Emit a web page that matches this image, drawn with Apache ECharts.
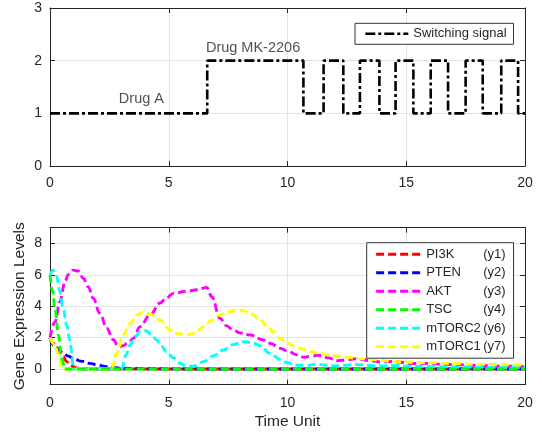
<!DOCTYPE html>
<html><head><meta charset="utf-8">
<script src="https://cdn.jsdelivr.net/npm/echarts@6/dist/echarts.min.js"></script>
<style>html,body{margin:0;padding:0;background:#fff}#c{width:542px;height:435px}</style>
</head><body><div id="c"></div>
<script>
// ---- Top panel: switching signal ----
const signalT = [0, 6.62, 10.67, 11.52, 12.35, 13.05, 13.87, 14.55, 15.3, 16.03, 16.76, 17.5, 18.22, 19.0, 19.71, 20];
const signalLevel = [1, 2, 1, 2, 1, 2, 1, 2, 1, 2, 1, 2, 1, 2, 1, 1];
const annotText = ['Drug A', 'Drug MK-2206'];
const annotX = [3.85, 8.55];
const annotY = [1.27, 2.24];

// ---- Bottom panel: gene expression ----
const seriesNames = ['PI3K', 'PTEN', 'AKT', 'TSC', 'mTORC2', 'mTORC1'];
const seriesTags = ['(y1)', '(y2)', '(y3)', '(y4)', '(y6)', '(y7)'];
const seriesColors = ['#ff0000', '#0000ff', '#ff00ff', '#00ff00', '#00ffff', '#ffff00'];

const pi3kT = [0, 0.14, 0.28, 0.42, 0.56, 0.7, 0.84, 0.98, 1.12, 1.26, 2, 20];
const pi3kY = [2, 1.64, 1.38, 1.1, 0.78, 0.47, 0.27, 0.15, 0.06, 0, 0, 0];

const ptenT = [0, 0.14, 0.35, 0.56, 0.77, 0.98, 1.3, 1.68, 2.0, 2.39, 2.7, 3.09, 3.6, 4, 6, 20];
const ptenY = [2, 1.53, 1.22, 1.0, 0.82, 0.68, 0.5, 0.36, 0.25, 0.15, 0.09, 0.05, 0.03, 0.02, 0, 0];

const aktT = [0, 0.21, 0.42, 0.63, 0.77, 0.98, 1.19, 1.4, 1.61, 1.82, 2.1, 2.39, 2.67, 2.88, 3.09, 3.3, 3.51, 3.79, 4.21, 4.63, 4.91, 5.19, 5.76, 6.2, 6.6, 6.81, 7.16, 7.44, 7.72, 8.0, 8.42, 8.98, 9.3, 9.68, 10.0, 10.4, 10.7, 11.0, 11.3, 11.7, 12.1, 12.5, 12.9, 13.4, 13.9, 14.4, 14.7, 15.2, 15.8, 16.5, 17.2, 18, 19, 20];
const aktY = [2, 3.0, 4.29, 5.56, 6.03, 6.3, 6.24, 5.78, 5.24, 4.5, 3.55, 2.6, 1.86, 1.42, 1.49, 1.7, 1.95, 2.7, 3.44, 4.2, 4.54, 4.82, 4.95, 5.05, 5.2, 4.6, 3.23, 2.75, 2.48, 2.3, 2.17, 1.85, 1.62, 1.32, 1.15, 0.9, 0.75, 0.82, 0.88, 0.72, 0.53, 0.58, 0.66, 0.55, 0.45, 0.48, 0.45, 0.35, 0.36, 0.3, 0.27, 0.22, 0.18, 0.15];

const tscT = [0, 0.1, 0.21, 0.35, 0.49, 0.63, 1, 2, 20];
const tscY = [6.0, 5.0, 3.87, 2.17, 0.68, 0, 0, 0, 0];

const mtorc2T = [0, 0.14, 0.28, 0.42, 0.56, 0.7, 0.84, 0.91, 0.98, 1.5, 3.02, 3.2, 3.37, 3.58, 3.79, 3.95, 4.07, 4.3, 4.49, 4.7, 4.91, 5.2, 5.5, 5.76, 6.1, 6.46, 6.9, 7.3, 7.7, 8.14, 8.5, 8.84, 9.26, 9.68, 10.0, 10.39, 10.8, 11.2, 11.6, 12.0, 12.5, 13.0, 13.5, 14, 14.5, 15, 16, 17, 18, 19, 20];
const mtorc2Y = [6.0, 6.3, 5.9, 4.9, 3.8, 2.8, 1.8, 1.1, 0, 0, 0, 0.9, 1.53, 2.05, 2.38, 2.45, 2.42, 2.15, 1.85, 1.45, 1.1, 0.7, 0.35, 0.15, 0.2, 0.47, 0.85, 1.21, 1.55, 1.74, 1.7, 1.49, 1.0, 0.62, 0.4, 0.25, 0.22, 0.3, 0.25, 0.2, 0.25, 0.28, 0.22, 0.2, 0.22, 0.18, 0.15, 0.13, 0.12, 0.1, 0.1];

const mtorc1T = [0, 0.2, 0.35, 0.53, 1, 2.6, 2.81, 3.09, 3.37, 3.65, 3.95, 4.21, 4.63, 5.05, 5.4, 5.76, 6.1, 6.46, 6.8, 7.16, 7.5, 7.86, 8.15, 8.42, 8.8, 9.12, 9.4, 9.68, 10.0, 10.3, 10.67, 11.0, 11.37, 11.7, 12.07, 12.5, 12.91, 13.4, 13.89, 14.3, 14.74, 15.3, 16, 17, 18, 19, 20];
const mtorc1Y = [2, 1.55, 1.0, 0, 0, 0, 1.0, 2.17, 2.9, 3.44, 3.62, 3.5, 3.12, 2.5, 2.25, 2.17, 2.3, 2.7, 3.1, 3.44, 3.65, 3.76, 3.7, 3.55, 3.2, 2.8, 2.35, 1.95, 1.65, 1.45, 1.25, 1.1, 1.0, 0.9, 0.83, 0.75, 0.68, 0.62, 0.57, 0.5, 0.47, 0.43, 0.4, 0.35, 0.3, 0.27, 0.25];

const seriesT = [pi3kT, ptenT, aktT, tscT, mtorc2T, mtorc1T];
const seriesY = [pi3kY, ptenY, aktY, tscY, mtorc2Y, mtorc1Y];

const FONT = 'Liberation Sans, Arial, Helvetica, sans-serif';
const AX = '#262626';
const GRIDC = '#e3e3e3';

const chart = echarts.init(document.getElementById('c'), null, {renderer: 'canvas'});

function xAx(grid, pos, opts) {
  return Object.assign({
    type: 'value', gridIndex: grid, position: pos, min: 0, max: 20, interval: 5,
    axisLine: {show: true, onZero: false, lineStyle: {color: AX, width: 1}},
    axisTick: {show: true, inside: true, length: 5, lineStyle: {color: AX}},
    axisLabel: {show: false},
    splitLine: {show: false}
  }, opts);
}
function yAx(grid, pos, min, max, interval, opts) {
  return Object.assign({
    type: 'value', gridIndex: grid, position: pos, min: min, max: max, interval: interval,
    axisLine: {show: true, onZero: false, lineStyle: {color: AX, width: 1}},
    axisTick: {show: true, inside: true, length: 5, lineStyle: {color: AX}},
    axisLabel: {show: false},
    splitLine: {show: false}
  }, opts);
}
const lab = {show: true, color: AX, fontSize: 14, fontFamily: FONT};

const lineSeries = seriesNames.map((n, i) => ({
  name: n, type: 'line', xAxisIndex: 2, yAxisIndex: 2,
  data: seriesT[i].map((t, k) => [t, seriesY[i][k]]),
  symbol: 'none', smooth: 0.4, smoothMonotone: 'x',
  lineStyle: {color: seriesColors[i], width: 2.9, type: [8, 4]},
  itemStyle: {color: seriesColors[i]},
  z: 3 + (n === 'TSC' ? 3 : 0)
}));

const option = {
  animation: false,
  backgroundColor: '#fff',
  textStyle: {fontFamily: FONT},
  grid: [
    {left: 50, top: 8, width: 475, height: 158},
    {left: 50, top: 227.7, width: 475, height: 157},
    {left: 50, top: 243.4, width: 475, height: 125.6}
  ],
  xAxis: [
    xAx(0, 'bottom', {axisLabel: Object.assign({margin: 10}, lab), splitLine: {show: true, lineStyle: {color: GRIDC}}}),
    xAx(0, 'top', {}),
    xAx(1, 'bottom', {axisLabel: Object.assign({margin: 11}, lab), splitLine: {show: true, lineStyle: {color: GRIDC}},
      name: 'Time Unit', nameLocation: 'middle', nameGap: 29, nameTextStyle: {color: AX, fontSize: 15.5, fontFamily: FONT}}),
    xAx(1, 'top', {}),
    xAx(2, 'bottom', {show: false})
  ],
  yAxis: [
    yAx(0, 'left', 0, 3, 1, {axisLabel: Object.assign({margin: 8}, lab), splitLine: {show: true, lineStyle: {color: GRIDC}}}),
    yAx(0, 'right', 0, 3, 1, {}),
    yAx(1, 'left', -1, 9, 1, {axisTick: {show: false},
      name: 'Gene Expression Levels', nameLocation: 'middle', nameGap: 22, nameTextStyle: {color: AX, fontSize: 15.5, fontFamily: FONT}}),
    yAx(1, 'right', -1, 9, 1, {axisTick: {show: false}}),
    yAx(2, 'left', 0, 8, 2, {axisLine: {show: false}, axisLabel: Object.assign({margin: 8}, lab), splitLine: {show: true, lineStyle: {color: GRIDC}}}),
    yAx(2, 'right', 0, 8, 2, {axisLine: {show: false}})
  ],
  legend: [
    {
      data: ['Switching signal'], left: 355, top: 23.3, orient: 'horizontal',
      itemWidth: 43, itemHeight: 12, padding: [4, 7, 4, 9],
      itemStyle: {opacity: 0}, lineStyle: {width: 2.6},
      borderColor: '#333', borderWidth: 1, backgroundColor: '#fff', borderRadius: 0,
      textStyle: {color: AX, fontSize: 13, fontFamily: FONT}
    },
    {
      data: seriesNames, left: 366.7, top: 242.7, orient: 'vertical',
      itemWidth: 45, itemHeight: 12, itemGap: 5.5, padding: [5, 8, 5, 8],
      itemStyle: {opacity: 0}, lineStyle: {width: 2.9},
      borderColor: '#333', borderWidth: 1, backgroundColor: '#fff', borderRadius: 0,
      formatter: name => '{a|' + name + '}{b|' + seriesTags[seriesNames.indexOf(name)] + '}',
      textStyle: {color: AX, fontSize: 13, fontFamily: FONT,
        rich: {a: {width: 57, fontSize: 13, fontFamily: FONT, color: AX}, b: {fontSize: 13, fontFamily: FONT, color: AX}}}
    }
  ],
  series: [
    {
      name: 'Switching signal', type: 'line', xAxisIndex: 0, yAxisIndex: 0,
      data: signalT.map((t, i) => [t, signalLevel[i]]),
      step: 'end', symbol: 'none',
      lineStyle: {color: '#000', width: 2.6, type: [10, 3, 3, 3]},
      itemStyle: {color: '#000'}, z: 3
    },
    {
      name: 'annotations', type: 'scatter', xAxisIndex: 0, yAxisIndex: 0,
      data: annotX.map((x, i) => [x, annotY[i]]),
      symbolSize: 0, silent: true,
      label: {show: true, position: 'inside', formatter: p => annotText[p.dataIndex],
        color: AX, fontSize: 14.5, fontFamily: FONT},
      z: 4
    }
  ].concat(lineSeries)
};
chart.setOption(option);
</script>
</body></html>
